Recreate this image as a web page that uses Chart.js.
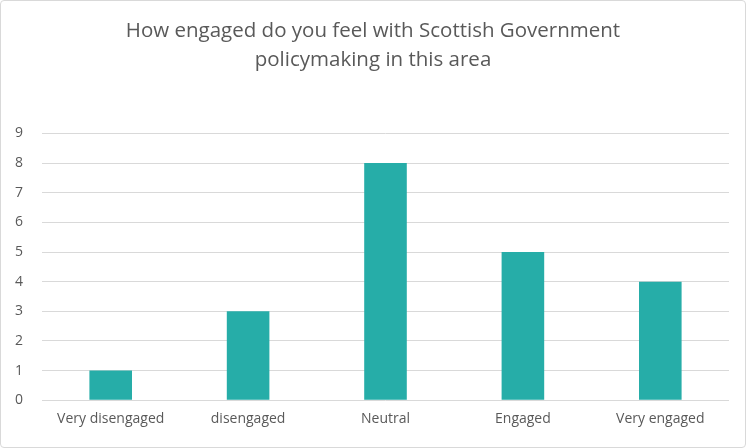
<!DOCTYPE html>
<html>
<head>
<meta charset="utf-8">
<script src="https://cdn.jsdelivr.net/npm/chart.js@4"></script>
<style>
  html, body { margin: 0; padding: 0; background: #fff; }
  #wrap { position: absolute; left: 0; top: 0; width: 744px; height: 446px; border: 1px solid #d9d9d9; border-radius: 4px; }
  canvas { display: block; }
</style>
</head>
<body>
<div id="wrap"><canvas id="chart" width="744" height="446"></canvas></div>
<script>
const categorias = ['Very disengaged', 'disengaged', 'Neutral', 'Engaged', 'Very engaged'];
const valores = [1, 3, 8, 5, 4];
const titulo = ['How engaged do you feel with Scottish Government', 'policymaking in this area'];

const corTexto = '#595959';
const fonte = "'Open Sans', 'Liberation Sans', sans-serif";

new Chart(document.getElementById('chart').getContext('2d'), {
    type: 'bar',
    data: {
        labels: categorias,
        datasets: [{
            data: valores,
            backgroundColor: '#26ADA8',
            categoryPercentage: 1,
            barPercentage: 0.31
        }]
    },
    options: {
        responsive: false,
        animation: false,
        layout: { padding: { top: 15, left: 6, right: 6, bottom: 10 } },
        plugins: {
            legend: { display: false },
            tooltip: { enabled: false },
            title: {
                display: true,
                text: titulo,
                color: corTexto,
                font: { family: fonte, size: 20.5, weight: 'normal', lineHeight: 1.45 },
                padding: { top: 0, bottom: 58 }
            }
        },
        scales: {
            x: {
                grid: { display: false, drawTicks: false },
                border: { display: false },
                ticks: { color: corTexto, font: { family: fonte, size: 14 }, padding: 10, maxRotation: 0 }
            },
            y: {
                min: 0,
                max: 9,
                afterFit(escala) { escala.width = 35; },
                grid: { color: '#d9d9d9', lineWidth: 1, drawTicks: false },
                border: { display: false },
                ticks: { stepSize: 1, color: corTexto, font: { family: fonte, size: 14 }, padding: 19 }
            },
            // espaço vazio à direita, só para equilibrar o título
            direita: {
                type: 'linear',
                position: 'right',
                afterFit(escala) { escala.width = 10; },
                grid: { display: false },
                border: { display: false },
                ticks: { display: false }
            }
        }
    }
});
</script>
</body>
</html>
